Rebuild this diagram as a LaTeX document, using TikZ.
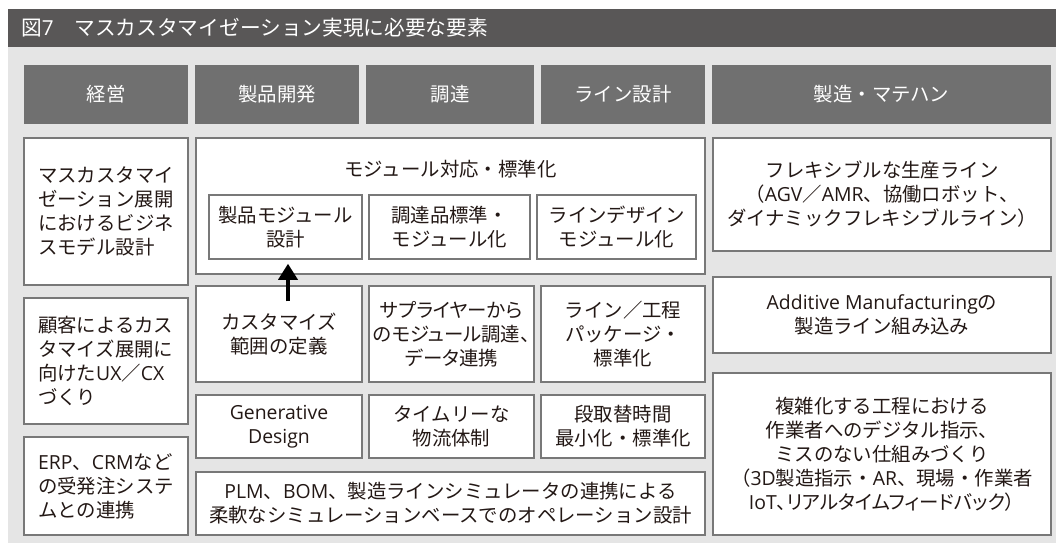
\documentclass[tikz,border=0pt]{standalone}
\usepackage{fontspec}
\newfontfamily\jp{Noto Sans CJK JP}
\newfontfamily\jpp[RawFeature=+palt]{Noto Sans CJK JP}
\newfontfamily\latfont{Open Sans}
\newcommand\latn[1]{{\latfont #1}}
\usetikzlibrary{arrows.meta}
\definecolor{titlebar}{RGB}{89,87,87}
\definecolor{bg}{RGB}{229,229,229}
\definecolor{headfill}{RGB}{112,112,112}
\definecolor{border}{RGB}{120,120,120}
\definecolor{ink}{RGB}{35,24,21}
\tikzset{
  box/.style={draw=border, line width=1.5pt, fill=white, text=ink,
    font=\jp\fontsize{19.4}{24}\selectfont, align=center, inner sep=0pt},
  leftbox/.style={box, text width=136pt, align=left},
  head/.style={fill=headfill, text=white, font=\jp\fontsize{19.4}{24}\selectfont,
    inner sep=0pt, minimum height=59pt},
  upar/.style={line width=3.5pt, black, -{Triangle[width=19pt 0 0,length=16pt 0 0]}}
}
\begin{document}
\begin{tikzpicture}[x=1pt,y=-1pt]
\useasboundingbox (0,0) rectangle (1056,543);
\fill[white] (0,0) rectangle (1056,543);
\fill[bg] (8,47) rectangle (1056,543);
\fill[titlebar] (8,9) rectangle (1056,47);
\node[anchor=west, text=white, font=\jp\fontsize{20.7}{24}\selectfont, inner sep=0pt] (title) at (21,28) {図\latn{7}　マスカスタマイゼーション実現に必要な要素};

% headers
\node[head, minimum width=164pt] (h1) at (106,94.5) {経営};
\node[head, minimum width=164pt] (h2) at (277,94.5) {製品開発};
\node[head, minimum width=168pt] (h3) at (450,94.5) {調達};
\node[head, minimum width=164pt] (h4) at (623,94.5) {ライン設計};
\node[head, minimum width=339pt] (h5) at (881.5,94.5) {製造・マテハン};

% left column
\node[leftbox, minimum width=164pt, minimum height=147pt] (l1) at (106,211.5) {マスカスタマイ\\ゼーション展開\\におけるビジネ\\スモデル設計};
\node[leftbox, minimum width=164pt, minimum height=126pt] (l2) at (106,361) {顧客によるカス\\タマイズ展開に\\向けた\latn{UX}／\latn{CX}\\づくり};
\node[leftbox, minimum width=164pt, minimum height=98pt] (l3) at (106,486) {\latn{ERP}、\latn{CRM}など\\の受発注システ\\ムとの連携};

% module block
\node[box, minimum width=509pt, minimum height=136pt] (mod) at (450.5,206) {};
\node[text=ink, font=\jp\fontsize{19.4}{24}\selectfont, inner sep=0pt] (modt) at (450.5,169) {モジュール対応・標準化};
\node[box, minimum width=153pt, minimum height=64pt] (m1) at (285.5,227) {製品モジュール\\設計};
\node[box, minimum width=161pt, minimum height=64pt] (m2) at (449.5,227) {調達品標準・\\モジュール化};
\node[box, minimum width=159pt, minimum height=64pt] (m3) at (616.5,227) {ラインデザイン\\モジュール化};

% row 2
\node[box, minimum width=166pt, minimum height=96pt] (c1) at (279,334) {カスタマイズ\\範囲の定義};
\node[box, minimum width=165pt, minimum height=96pt, font=\jpp\fontsize{19.4}{24}\selectfont] (c2) at (451.5,334) {サプライヤーから\\のモジュール調達、\\データ連携};
\node[box, minimum width=164pt, minimum height=96pt] (c3) at (623,334) {ライン／工程\\パッケージ・\\標準化};

% row 3
\node[box, minimum width=166pt, minimum height=63pt] (g1) at (279,426.5) {\latn{Generative}\\\latn{Design}};
\node[box, minimum width=165pt, minimum height=63pt] (g2) at (451.5,426.5) {タイムリーな\\物流体制};
\node[box, minimum width=164pt, minimum height=63pt] (g3) at (623,426.5) {段取替時間\\最小化・標準化};

% row 4
\node[box, minimum width=509pt, minimum height=63pt] (p) at (450.5,503.5) {\latn{PLM}、\latn{BOM}、製造ラインシミュレータの連携による\\柔軟なシミュレーションベースでのオペレーション設計};

% right column
\node[box, minimum width=338pt, minimum height=113pt] (r1) at (882,194.5) {フレキシブルな生産ライン\\（\latn{AGV}／\latn{AMR}、協働ロボット、\\ダイナミックフレキシブルライン）};
\node[box, minimum width=338pt, minimum height=76pt] (r2) at (882,315) {\latn{Additive Manufacturing}の\\製造ライン組み込み};
\node[box, minimum width=338pt, minimum height=162pt] (r3) at (882,454) {複雑化する工程における\\作業者へのデジタル指示、\\ミスのない仕組みづくり\\（\latn{3D}製造指示・\latn{AR}、現場・作業者\\{\jpp\latn{IoT}、リアルタイムフィードバック）}};

% arrow
\draw[upar] ([xshift=2.5pt,yshift=-16pt]c1.north -| m1.south) -- ([xshift=2.5pt,yshift=-4pt]m1.south);
\end{tikzpicture}
\end{document}
